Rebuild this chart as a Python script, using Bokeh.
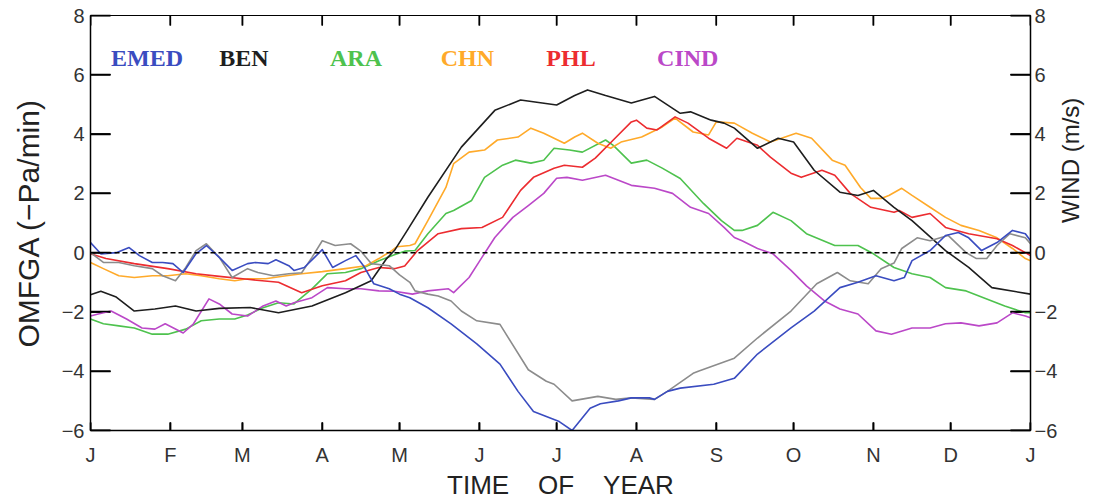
import math
from bokeh.plotting import figure
from bokeh.models import Range1d, LinearAxis, FixedTicker, Label
from bokeh.embed import file_html
from bokeh.resources import INLINE

# Month boundaries (day of year) and their initials
month_days = [0, 31, 59, 90, 120, 151, 181, 212, 243, 273, 304, 334, 365]
month_labels = ["J", "F", "M", "A", "M", "J", "J", "A", "S", "O", "N", "D", "J"]
y_ticks = [-6, -4, -2, 0, 2, 4, 6, 8]

# EMED (blue)
emed_day = [0, 4, 10, 15, 19, 24, 28, 32, 36, 41, 45, 50, 55, 61, 64, 69, 72, 77, 79, 83,
            87, 90, 94, 99, 103, 106, 110, 116, 120, 124, 131, 140, 150, 159, 166, 172, 182,
            187, 194, 198, 205, 210, 217, 219, 224, 229, 242, 250, 259, 272, 281, 291, 298,
            305, 312, 316, 319, 326, 332, 337, 341, 346, 352, 358, 363, 365]
emed_val = [0.34, -0.04, 0.0, 0.17, -0.1, -0.33, -0.33, -0.37, -0.67, -0.03, 0.24, -0.16, -0.6,
            -0.37, -0.33, -0.37, -0.24, -0.44, -0.6, -0.5, -0.16, 0.1, -0.5, -0.27, -0.1, -0.44,
            -1.05, -1.22, -1.4, -1.52, -1.86, -2.4, -3.08, -3.76, -4.68, -5.36, -5.7, -6.0,
            -5.25, -5.1, -5.0, -4.9, -4.9, -4.95, -4.68, -4.57, -4.44, -4.24, -3.42, -2.54,
            -1.97, -1.18, -1.0, -0.78, -0.95, -0.84, -0.27, 0.07, 0.58, 0.68, 0.5, 0.07, 0.34,
            0.75, 0.64, 0.4]

# BEN (black)
ben_day = [0, 4, 10, 17, 25, 33, 41, 50, 62, 73, 86, 99, 109, 115, 118, 123, 131, 144, 157,
           167, 181, 188, 193, 200, 210, 219, 229, 233, 241, 246, 250, 259, 267, 273, 281, 291,
           298, 304, 312, 319, 332, 341, 350, 365]
ben_val = [-1.42, -1.3, -1.5, -1.97, -1.9, -1.8, -1.97, -1.88, -1.85, -2.03, -1.8, -1.35, -0.95,
           -0.2, 0.07, 0.75, 1.87, 3.56, 4.8, 5.15, 4.98, 5.3, 5.49, 5.3, 5.05, 5.27, 4.7, 4.75,
           4.47, 4.37, 4.2, 3.52, 3.86, 3.73, 2.78, 2.04, 1.93, 2.1, 1.53, 1.08, 0.07, -0.5,
           -1.18, -1.4]

# ARA (green)
ara_day = [0, 5, 11, 17, 24, 30, 37, 43, 50, 56, 61, 67, 73, 79, 86, 92, 99, 105, 112, 118,
           122, 126, 131, 138, 141, 148, 153, 160, 165, 171, 176, 180, 186, 191, 200, 203, 210,
           216, 222, 229, 238, 245, 250, 253, 259, 265, 272, 278, 289, 298, 304, 312, 319, 326,
           332, 340, 348, 355, 363, 365]
ara_val = [-2.24, -2.4, -2.47, -2.54, -2.75, -2.75, -2.58, -2.3, -2.24, -2.24, -2.1, -1.86,
           -1.69, -1.73, -1.22, -0.71, -0.67, -0.54, -0.27, -0.07, 0.05, 0.07, 0.64, 1.32, 1.42,
           1.76, 2.54, 2.95, 3.12, 3.02, 3.12, 3.52, 3.46, 3.39, 3.8, 3.62, 3.02, 3.12, 2.85,
           2.5, 1.66, 1.08, 0.75, 0.75, 0.92, 1.36, 1.08, 0.64, 0.24, 0.24, -0.04, -0.5, -0.71,
           -0.84, -1.18, -1.29, -1.56, -1.8, -2.03, -2.03]

# CHN (orange)
chn_day = [0, 5, 11, 17, 24, 30, 37, 43, 50, 56, 61, 68, 76, 82, 90, 99, 107, 112, 117, 119,
           124, 126, 131, 138, 141, 147, 153, 158, 166, 171, 176, 184, 188, 191, 197, 202, 206,
           214, 222, 227, 234, 240, 243, 250, 257, 264, 274, 280, 288, 293, 299, 303, 307, 310,
           315, 319, 326, 332, 338, 345, 352, 358, 363, 365]
chn_val = [-0.33, -0.54, -0.78, -0.84, -0.78, -0.78, -0.71, -0.78, -0.88, -0.95, -0.88, -0.88,
           -0.78, -0.71, -0.64, -0.54, -0.44, -0.2, 0.07, 0.2, 0.24, 0.3, 1.08, 2.2, 3.0, 3.39,
           3.46, 3.8, 3.9, 4.2, 4.03, 3.69, 3.9, 4.03, 3.69, 3.52, 3.73, 3.9, 4.24, 4.54, 4.07,
           3.97, 4.41, 4.37, 4.03, 3.73, 4.03, 3.86, 3.12, 2.95, 2.2, 1.83, 1.83, 1.93, 2.17,
           1.93, 1.53, 1.19, 0.92, 0.75, 0.5, 0.14, -0.2, -0.27]

# PHL (red)
phl_day = [0, 6, 17, 30, 41, 50, 61, 73, 82, 90, 99, 105, 112, 118, 122, 127, 135, 144, 152,
           160, 167, 172, 180, 184, 191, 196, 203, 210, 212, 216, 220, 227, 232, 240, 247, 251,
           259, 264, 272, 276, 284, 289, 295, 303, 312, 314, 319, 326, 332, 341, 352, 358, 363,
           365]
phl_val = [-0.04, -0.2, -0.37, -0.54, -0.71, -0.8, -0.9, -1.0, -1.35, -1.12, -0.95, -0.67,
           -0.5, -0.54, -0.45, 0.07, 0.64, 0.81, 0.85, 1.19, 2.1, 2.54, 2.85, 2.95, 2.88, 3.19,
           3.8, 4.41, 4.47, 4.2, 4.14, 4.58, 4.37, 3.86, 3.52, 3.86, 3.62, 3.22, 2.68, 2.54,
           2.78, 2.61, 2.0, 1.53, 1.36, 1.42, 1.19, 1.32, 0.85, 0.64, 0.47, 0.24, 0.0, -0.1]

# CIND (magenta)
cind_day = [0, 3, 8, 14, 20, 25, 29, 36, 40, 46, 50, 55, 61, 67, 72, 76, 79, 86, 92, 99, 105,
            112, 118, 125, 131, 139, 141, 147, 152, 157, 164, 170, 176, 181, 185, 191, 200, 210,
            219, 226, 233, 240, 246, 250, 253, 259, 265, 272, 278, 285, 291, 298, 305, 311, 319,
            326, 332, 338, 345, 352, 358, 363, 365]
cind_val = [-2.14, -2.07, -1.97, -2.24, -2.54, -2.58, -2.4, -2.71, -2.4, -1.56, -1.73, -2.07,
            -2.14, -1.8, -1.63, -1.8, -1.69, -1.52, -1.18, -1.22, -1.22, -1.29, -1.3, -1.4,
            -1.29, -1.22, -1.35, -0.84, -0.16, 0.51, 1.19, 1.59, 2.0, 2.51, 2.54, 2.44, 2.61,
            2.27, 2.17, 2.0, 1.53, 1.32, 0.85, 0.51, 0.4, 0.14, -0.04, -0.6, -1.12, -1.63, -1.9,
            -2.07, -2.64, -2.75, -2.54, -2.54, -2.4, -2.37, -2.47, -2.37, -2.03, -2.14, -2.2]

# Wind (grey, right axis, same scale)
wind_day = [0, 5, 11, 17, 24, 28, 33, 37, 41, 45, 50, 55, 61, 65, 71, 77, 82, 86, 90, 95, 101,
            105, 109, 116, 120, 124, 126, 131, 135, 140, 144, 150, 159, 170, 177, 180, 187, 197,
            204, 210, 219, 224, 234, 236, 250, 259, 272, 282, 290, 295, 302, 307, 312, 315, 321,
            326, 333, 340, 344, 348, 352, 357, 363, 365]
wind_val = [0.0, -0.33, -0.33, -0.44, -0.54, -0.78, -0.95, -0.5, 0.07, 0.3, -0.16, -0.84,
            -0.54, -0.67, -0.78, -0.71, -0.68, -0.16, 0.4, 0.24, 0.3, 0.05, -0.37, -0.44, -0.75,
            -1.0, -1.29, -1.4, -1.46, -1.63, -1.97, -2.3, -2.42, -3.95, -4.34, -4.44, -5.0,
            -4.85, -4.95, -4.9, -4.95, -4.68, -4.07, -4.0, -3.56, -2.88, -1.97, -1.05, -0.67,
            -0.95, -1.05, -0.54, -0.35, 0.14, 0.5, 0.4, 0.58, 0.0, -0.2, -0.2, 0.24, 0.64, 0.5,
            0.3]

region_names = ["EMED", "BEN", "ARA", "CHN", "PHL", "CIND"]
region_colors = ["#3a4cc0", "#1e1e1e", "#4ec24e", "#ffaa2a", "#ec2c30", "#bb48c8"]
wind_color = "#8c8c8c"

X0, X1, Y0, Y1 = 0, 365, -6, 8
FRAME_W, FRAME_H = 942, 415

p = figure(width=1100, height=502, output_backend="svg", toolbar_location=None,
           x_range=Range1d(X0, X1), y_range=Range1d(Y0, Y1),
           x_axis_type=None, y_axis_type=None,
           min_border_left=90, min_border_right=68, min_border_top=15, min_border_bottom=72)
p.outline_line_color = "black"

minus = lambda t: str(t).replace("-", "\u2212")
y_labels = {t: minus(t) for t in y_ticks}

left = LinearAxis(ticker=FixedTicker(ticks=y_ticks), major_label_overrides=y_labels,
                  axis_label="OMFGA (\u2212Pa/min)")
right = LinearAxis(ticker=FixedTicker(ticks=y_ticks), major_label_overrides=y_labels,
                   axis_label="WIND (m/s)")
bottom = LinearAxis(ticker=FixedTicker(ticks=month_days),
                    major_label_overrides=dict(zip(month_days, month_labels)),
                    axis_label="TIME\u00a0\u00a0\u00a0\u00a0OF\u00a0\u00a0\u00a0\u00a0YEAR")

for ax in (left, right, bottom):
    ax.axis_line_color = "black"
    ax.axis_line_width = 1.5
    ax.major_tick_line_color = "black"
    ax.major_tick_line_width = 1.5
    ax.major_tick_out = 0
    ax.minor_tick_line_color = None
    ax.major_label_text_font = "helvetica"
    ax.major_label_text_font_size = "20px"
    ax.major_label_text_color = "#333333"
    ax.axis_label_text_font = "helvetica"
    ax.axis_label_text_font_style = "normal"
    ax.axis_label_text_color = "#222222"

left.major_tick_in = 20
right.major_tick_in = 20
bottom.major_tick_in = 8
left.major_label_standoff = 6
left.axis_label_standoff = 14
left.axis_label_text_font_size = "30px"
right.major_label_standoff = 4
right.axis_label_standoff = 10
right.axis_label_text_font_size = "24px"
right.axis_label_orientation = math.pi / 2
bottom.major_label_standoff = 13
bottom.axis_label_standoff = 1
bottom.axis_label_text_font_size = "26px"

p.add_layout(left, "left")
p.add_layout(right, "right")
p.add_layout(bottom, "below")

# inward tick marks on all four sides (lengths in pixels, converted to data units)
dx = (X1 - X0) / FRAME_W
dy = (Y1 - Y0) / FRAME_H
n_y = len(y_ticks)
n_x = len(month_days)
tick_kw = dict(line_color="black", line_width=1.5)
p.segment(x0=[X0] * n_y, y0=y_ticks, x1=[X0 + 20 * dx] * n_y, y1=y_ticks, **tick_kw)
p.segment(x0=[X1] * n_y, y0=y_ticks, x1=[X1 - 20 * dx] * n_y, y1=y_ticks, **tick_kw)
p.segment(x0=month_days, y0=[Y0] * n_x, x1=month_days, y1=[Y0 + 8 * dy] * n_x, **tick_kw)
p.segment(x0=month_days, y0=[Y1] * n_x, x1=month_days, y1=[Y1 - 10 * dy] * n_x, **tick_kw)
# filled bars along the same tick positions
p.quad(left=[X0] * n_y, right=[X0 + 20 * dx] * n_y,
       bottom=[t - 0.75 * dy for t in y_ticks], top=[t + 0.75 * dy for t in y_ticks],
       fill_color="black", line_color=None)
p.quad(left=[X1 - 20 * dx] * n_y, right=[X1] * n_y,
       bottom=[t - 0.75 * dy for t in y_ticks], top=[t + 0.75 * dy for t in y_ticks],
       fill_color="black", line_color=None)
p.quad(left=[d - 0.75 * dx for d in month_days], right=[d + 0.75 * dx for d in month_days],
       bottom=[Y1 - 10 * dy] * n_x, top=[Y1] * n_x, fill_color="black", line_color=None)
p.quad(left=[d - 0.75 * dx for d in month_days], right=[d + 0.75 * dx for d in month_days],
       bottom=[Y0] * n_x, top=[Y0 + 8 * dy] * n_x, fill_color="black", line_color=None)

line_kw = dict(line_width=1.6, line_join="round")
p.line(ara_day, ara_val, color=region_colors[2], **line_kw)
p.line(cind_day, cind_val, color=region_colors[5], **line_kw)
p.line(chn_day, chn_val, color=region_colors[3], **line_kw)
p.line(phl_day, phl_val, color=region_colors[4], **line_kw)
p.line(ben_day, ben_val, color=region_colors[1], **line_kw)
p.line(wind_day, wind_val, color=wind_color, **line_kw)
p.line(emed_day, emed_val, color=region_colors[0], **line_kw)

# zero reference line
p.line([X0, X1], [0, 0], line_color="black", line_width=1.5, line_dash="5 3")

# region names along the top of the panel
name_x = [8, 50, 93, 136, 177, 220]
for nx, name, col in zip(name_x, region_names, region_colors):
    p.add_layout(Label(x=nx, y=6.55, text=name, text_color=col,
                       text_font="times", text_font_style="bold",
                       text_font_size="24px", text_baseline="middle", text_align="left"))

open("out.html", "w").write(file_html(p, INLINE))
